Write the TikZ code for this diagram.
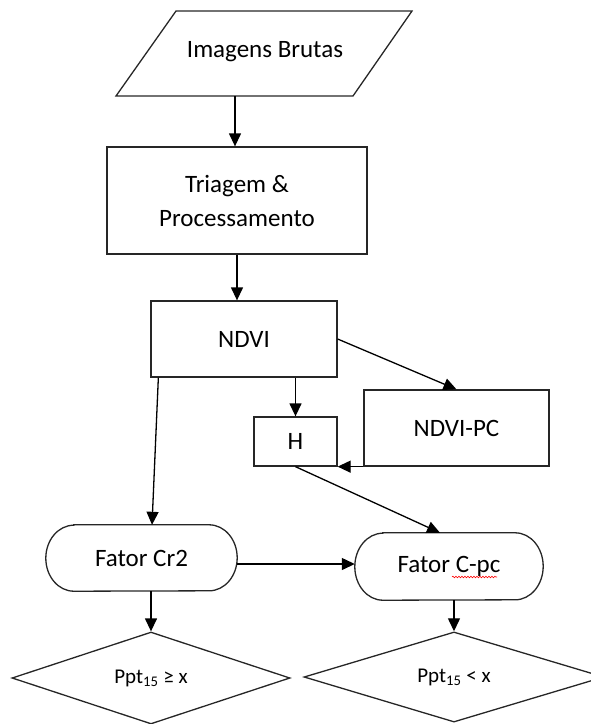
\documentclass[tikz,border=0pt]{standalone}
\usepackage{fontspec}
\setmainfont{Carlito}
\usetikzlibrary{arrows.meta,shapes.geometric,decorations.pathmorphing}
\newcommand\drawterm[3]{%
  \draw[shp] ([xshift=#2]#1.north west) -- ([xshift=-#2]#1.north east)
    arc[start angle=90,end angle=-90,x radius=#2,y radius=#3]
    -- ([xshift=#2]#1.south west)
    arc[start angle=270,end angle=90,x radius=#2,y radius=#3] -- cycle;}
\begin{document}
\begin{tikzpicture}[x=1pt,y=-1pt,
  shp/.style={draw=black!85, line width=1.3pt},
  box/.style={shp, rectangle, inner sep=0pt},
  txt/.style={font=\fontsize{25}{34}\selectfont, text=black},
  smalltxt/.style={font=\fontsize{21}{24}\selectfont, text=black},
  arr/.style={line width=1.3pt, draw=black, -{Triangle[length=13pt,width=12pt]}},
  ]
\useasboundingbox (0,0) rectangle (590,724);

% input parallelogram
\draw[shp] (176,11) -- (412,11) -- (353,96) -- (116,96) -- cycle;
\node[txt] (img) at (265,52) {Imagens Brutas};
\coordinate (imgb) at (235,96);

% boxes
\node[box,txt,minimum width=260pt,minimum height=107pt,align=center] (tri) at (237,200.5) {Triagem \&\\Processamento};
\node[box,txt,minimum width=186pt,minimum height=76pt] (ndvi) at (244,339) {NDVI};
\node[box,txt,minimum width=83pt,minimum height=49pt] (h) at (295.5,441.5) {H};
\node[box,txt,minimum width=185pt,minimum height=76pt] (pc) at (456.5,428) {NDVI-PC};

% terminators
\node[txt,minimum width=191pt,minimum height=66pt,inner sep=0pt] (cr2) at (141.5,558) {Fator Cr2};
\drawterm{cr2}{28pt}{33pt}
\node[txt,minimum width=188pt,minimum height=67pt,inner sep=0pt] (cpc) at (449,566.5) {Fator C-pc};
\drawterm{cpc}{28pt}{33.5pt}
\draw[red, line width=0.6pt, decorate, decoration={snake, amplitude=0.8pt, segment length=3pt}] (452,577) -- (497,577);

% decisions
\node[shp,diamond,inner sep=0pt,minimum width=278pt,minimum height=92pt,smalltxt] (d1) at (151,678) {Ppt\textsubscript{15} ≥ x};
\node[shp,diamond,inner sep=0pt,minimum width=300pt,minimum height=90pt,smalltxt] (d2) at (454,677) {Ppt\textsubscript{15} < x};

% connectors
\draw[arr] (imgb) -- (imgb |- tri.north);
\draw[arr] (tri.south) -- (tri.south |- ndvi.north);
\draw[arr] (ndvi.south -| h.north) -- (h.north);
\draw[arr] (ndvi.east) -- (pc.north);
\draw[arr] (pc.south west) -- (h.south east);
\draw[arr] (h.south) -- ([xshift=-9pt]cpc.north);
\draw[arr] ([xshift=8pt]ndvi.south west) -- ([xshift=10.5pt]cr2.north);
\draw[arr] ([yshift=-6pt]cr2.east) -- ([yshift=-6pt]cr2.east -| cpc.west);
\draw[arr] (cr2.south -| d1.north) -- (d1.north);
\draw[arr] (cpc.south -| d2.north) -- (d2.north);
\end{tikzpicture}
\end{document}
